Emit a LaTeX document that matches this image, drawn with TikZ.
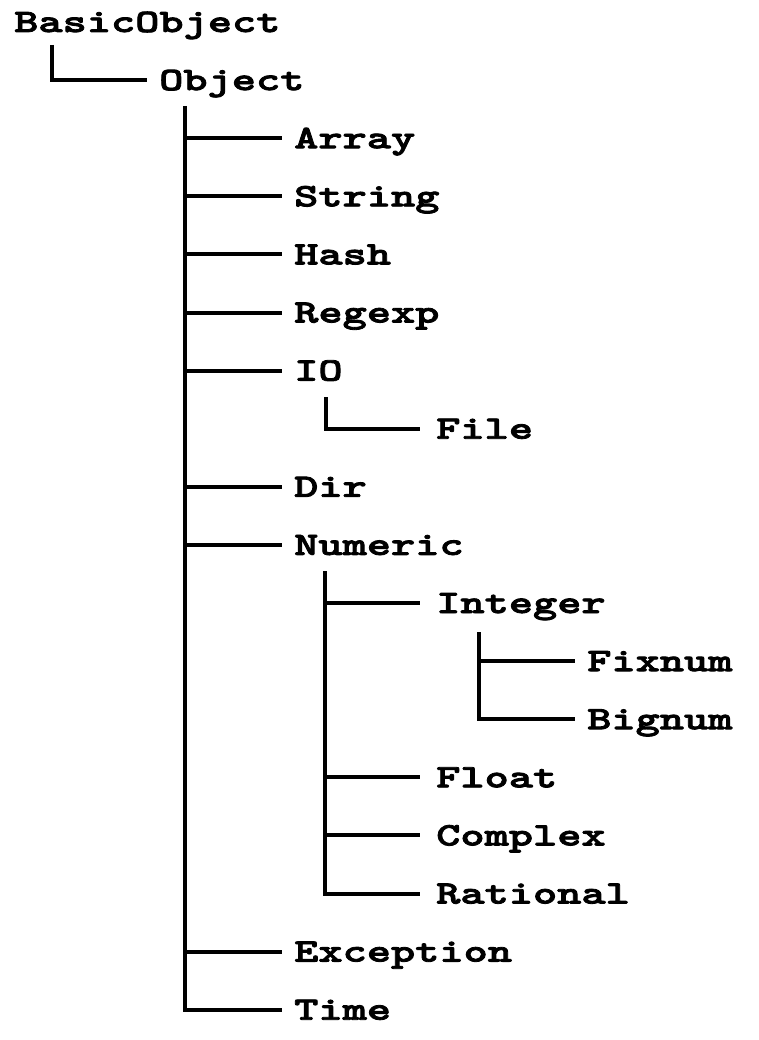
\documentclass[tikz,border=0pt]{standalone}
\font\lblfont="[lmmonolt10-bold.otf]:extend=1.41;embolden=2.5" at 32.7pt
\tikzset{
  lbl/.style={anchor=west, inner sep=0pt, text height=20pt, text depth=0pt,
    font=\lblfont},
  conn/.style={draw=black, line width=4pt, line join=miter}
}
\begin{document}
\begin{tikzpicture}[x=1pt,y=-1pt]
\useasboundingbox (0,0) rectangle (758,1040);
% nodes
\node[lbl] (basic)    at (14,22)     {BasicObject};
\node[lbl] (object)   at (159,80.1)  {Object};
\node[lbl] (array)    at (294,138.2) {Array};
\node[lbl] (string)   at (294,196.3) {String};
\node[lbl] (hash)     at (294,254.4) {Hash};
\node[lbl] (regexp)   at (294,312.5) {Regexp};
\node[lbl] (io)       at (294,370.6) {IO};
\node[lbl] (file)     at (436,428.7) {File};
\node[lbl] (dir)      at (294,486.8) {Dir};
\node[lbl] (numeric)  at (294,544.9) {Numeric};
\node[lbl] (integer)  at (436,603)   {Integer};
\node[lbl] (fixnum)   at (587,661.1) {Fixnum};
\node[lbl] (bignum)   at (587,719.2) {Bignum};
\node[lbl] (float)    at (436,777.3) {Float};
\node[lbl] (complex)  at (436,835.4) {Complex};
\node[lbl] (rational) at (436,893.5) {Rational};
\node[lbl] (exception) at (294,951.6) {Exception};
\node[lbl] (time)     at (294,1009.7) {Time};
% trunk tops
\coordinate (basicT) at (52,45);
\coordinate (objT) at (185,106);
\coordinate (ioT) at (326,397);
\coordinate (numT) at (325,571);
\coordinate (intT) at (479,632);
% connectors
\draw[conn] (basicT) |- ([xshift=-12pt]object.west);
\draw[conn] (objT) |- ([xshift=-12pt]time.west);
\foreach \c in {array,string,hash,regexp,io,dir,numeric,exception}
  \draw[conn] (objT |- \c.west) -- ([xshift=-12pt]\c.west);
\draw[conn] (ioT) |- ([xshift=-16pt]file.west);
\draw[conn] (numT) |- ([xshift=-16pt]rational.west);
\foreach \c in {integer,float,complex}
  \draw[conn] (numT |- \c.west) -- ([xshift=-16pt]\c.west);
\draw[conn] (intT) |- ([xshift=-12pt]bignum.west);
\draw[conn] (intT |- fixnum.west) -- ([xshift=-12pt]fixnum.west);
\end{tikzpicture}
\end{document}
